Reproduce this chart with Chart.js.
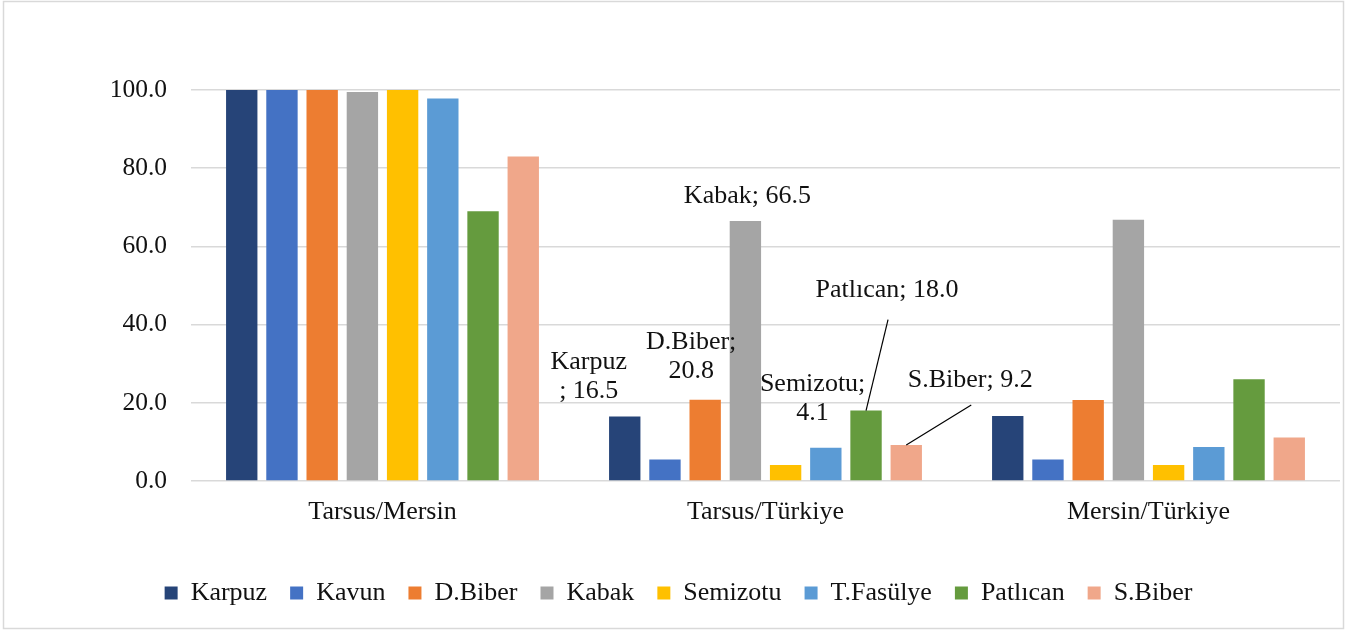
<!DOCTYPE html>
<html>
<head>
<meta charset="utf-8">
<script src="https://cdn.jsdelivr.net/npm/chart.js@4.4.1/dist/chart.umd.min.js"></script>
<style>
  html, body { margin: 0; padding: 0; background: #fff; }
  #wrap { position: relative; width: 1347px; height: 630px; }
</style>
</head>
<body>
<div id="wrap"><canvas id="c" width="1347" height="630"></canvas></div>
<script>
// ---- Data ----
const categories = ["Tarsus/Mersin", "Tarsus/Türkiye", "Mersin/Türkiye"];
const seriesNames = ["Karpuz", "Kavun", "D.Biber", "Kabak", "Semizotu", "T.Fasülye", "Patlıcan", "S.Biber"];
const karpuz   = [100.0, 16.5, 16.6];
const kavun    = [100.0, 5.5, 5.5];
const dBiber   = [100.0, 20.8, 20.7];
const kabak    = [99.5, 66.5, 66.8];
const semizotu = [100.0, 4.1, 4.1];
const tFasulye = [97.8, 8.5, 8.7];
const patlican = [69.0, 18.0, 26.0];
const sBiber   = [83.0, 9.2, 11.1];
const seriesValues = [karpuz, kavun, dBiber, kabak, semizotu, tFasulye, patlican, sBiber];
const yTicks = [0, 20, 40, 60, 80, 100];

// ---- Styles ----
const colors = ["#264478", "#4472C4", "#ED7D31", "#A5A5A5", "#FFC000", "#5B9BD5", "#659B3E", "#F0A78A"];
const FONT = "'Liberation Serif', 'Times New Roman', serif";
const TEXT = "#111111";

// data label layout for Tarsus/Türkiye (offsets relative to bar top-centre)
const labelCategory = 1;
const labelLayout = [
  { lines: ["Karpuz", "; 16.5"], dx: -36, dy: -54 },
  null,
  { lines: ["D.Biber;", "20.8"], dx: -14, dy: -58 },
  { lines: null, dx: 2, dy: -25 },
  { lines: ["Semizotu;", "4.1"], dx: 27, dy: -81 },
  null,
  { lines: null, dx: 21, dy: -120, leader: [22, -91] },
  { lines: null, dx: 64, dy: -65, leader: [65, -40] }
];

const datasets = seriesNames.map((name, i) => ({
  label: name,
  data: seriesValues[i],
  backgroundColor: colors[i],
  borderWidth: 0,
  categoryPercentage: 0.84,
  barPercentage: 0.78
}));

const labelPlugin = {
  id: 'labels',
  afterDatasetsDraw(chart) {
    const ctx = chart.ctx;
    ctx.save();
    ctx.font = "26px " + FONT;
    ctx.fillStyle = TEXT;
    ctx.textAlign = 'center';
    ctx.textBaseline = 'middle';
    labelLayout.forEach((cfg, i) => {
      if (!cfg) return;
      const bar = chart.getDatasetMeta(i).data[labelCategory];
      const v = seriesValues[i][labelCategory];
      const lines = cfg.lines || [seriesNames[i] + "; " + v.toFixed(1)];
      lines.forEach((t, k) => ctx.fillText(t, bar.x + cfg.dx, bar.y + cfg.dy + k * 29));
      if (cfg.leader) {
        ctx.strokeStyle = "#000";
        ctx.lineWidth = 1.2;
        ctx.beginPath();
        ctx.moveTo(bar.x + cfg.leader[0], bar.y + cfg.leader[1]);
        ctx.lineTo(bar.x, bar.y);
        ctx.stroke();
      }
    });
    ctx.restore();
  }
};

const framePlugin = {
  id: 'frame',
  beforeDraw(chart) {
    const ctx = chart.ctx;
    ctx.save();
    ctx.fillStyle = '#fff';
    ctx.fillRect(0, 0, chart.width, chart.height);
    ctx.restore();
  },
  afterDraw(chart) {
    const ctx = chart.ctx;
    ctx.save();
    ctx.strokeStyle = '#d9d9d9';
    ctx.lineWidth = 1.5;
    ctx.strokeRect(3.5, 1.5, 1340, 627);
    ctx.restore();
  }
};

Chart.defaults.font.family = FONT;
Chart.defaults.color = TEXT;

new Chart(document.getElementById('c'), {
  type: 'bar',
  data: { labels: categories, datasets },
  plugins: [framePlugin, labelPlugin],
  options: {
    responsive: false,
    animation: false,
    devicePixelRatio: 1,
    layout: { padding: { top: 90, left: 17, right: 7, bottom: 14 } },
    plugins: {
      tooltip: { enabled: false },
      legend: {
        position: 'bottom',
        labels: {
          boxWidth: 13,
          boxHeight: 13,
          padding: 23,
          color: TEXT,
          font: { size: 26, family: FONT }
        }
      }
    },
    scales: {
      x: {
        grid: { display: false },
        border: { display: false },
        ticks: { font: { size: 26, family: FONT }, color: TEXT, padding: 8 },
        afterFit(s) { s.height = 76; }
      },
      y: {
        min: 0,
        max: 100,
        afterBuildTicks(s) { s.ticks = yTicks.map(v => ({ value: v })); },
        grid: { color: '#d9d9d9', lineWidth: 1.5, drawTicks: false },
        border: { display: false },
        ticks: {
          font: { size: 25.5, family: FONT },
          color: TEXT,
          padding: 24,
          callback: v => Number(v).toFixed(1)
        },
        afterFit(s) { s.width = 174; }
      }
    }
  }
});
</script>
</body>
</html>
